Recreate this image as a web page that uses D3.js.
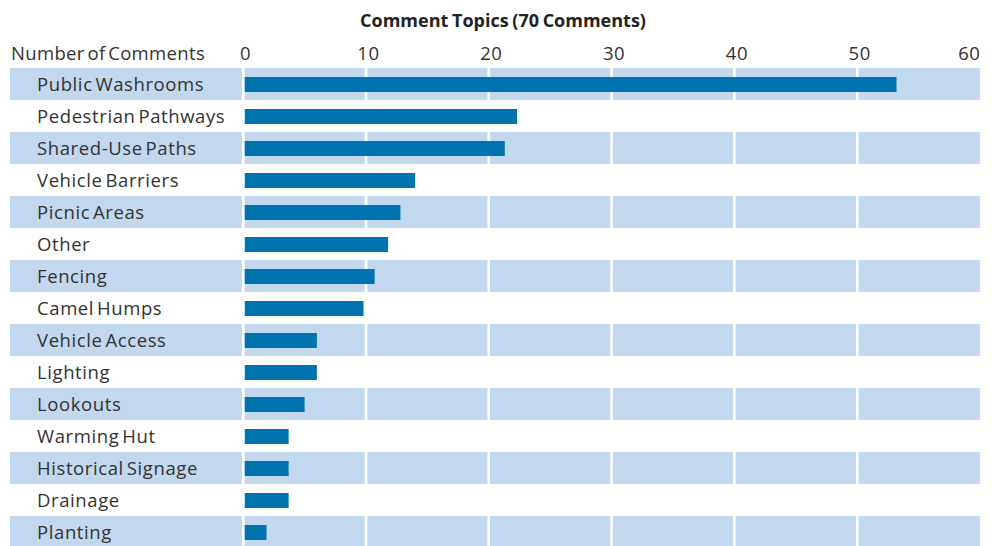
<!DOCTYPE html>
<html>
<head>
<meta charset="utf-8">
<script src="https://cdn.jsdelivr.net/npm/d3@7"></script>
<style>
  html, body { margin: 0; padding: 0; background: #fff; }
  svg { display: block; font-family: "Open Sans", sans-serif; }
</style>
</head>
<body>
<svg id="chart" width="992" height="546"></svg>
<script>
const title = "Comment Topics (70 Comments)";
const axisLabel = "Number of Comments";
const categories = ["Public Washrooms","Pedestrian Pathways","Shared-Use Paths","Vehicle Barriers","Picnic Areas","Other","Fencing","Camel Humps","Vehicle Access","Lighting","Lookouts","Warming Hut","Historical Signage","Drainage","Planting"];
const values = [53.2, 22.3, 21.3, 14, 12.8, 11.8, 10.7, 9.8, 6, 6, 5, 3.7, 3.7, 3.7, 1.9];
const ticks = [0, 10, 20, 30, 40, 50, 60];

const svg = d3.select("#chart");
const margin = { left: 243.2, right: 980, top: 68, rowH: 32 };
const x = d3.scaleLinear().domain([0, 60]).range([margin.left, margin.right]);
const y = d3.scaleBand().domain(categories).range([margin.top, margin.top + margin.rowH * categories.length]).paddingInner(0).paddingOuter(0);

const bandColor = "#c2d8ee";
const barColor = "#0074ae";
const textColor = "#333";
const fontFam = "'Open Sans', sans-serif";

// alternating row bands
svg.append("g").selectAll("rect")
  .data(categories.filter((d, i) => i % 2 === 0))
  .join("rect")
  .attr("x", 10)
  .attr("y", d => y(d))
  .attr("width", x(60) - 10)
  .attr("height", y.bandwidth())
  .attr("fill", bandColor);

// white gridlines
svg.append("g").selectAll("rect")
  .data(ticks.slice(0, -1))
  .join("rect")
  .attr("x", d => x(d) - 1.3)
  .attr("y", margin.top)
  .attr("width", 2.6)
  .attr("height", y.range()[1] - margin.top)
  .attr("fill", "#fff");

// bars
svg.append("g").selectAll("rect")
  .data(categories)
  .join("rect")
  .attr("x", x(0) + 1.6)
  .attr("y", d => y(d) + 9)
  .attr("width", (d, i) => x(values[i]) - x(0) - 1.6)
  .attr("height", 15)
  .attr("fill", barColor);

// category labels
svg.append("g").selectAll("text")
  .data(categories)
  .join("text")
  .attr("x", 37)
  .attr("y", d => y(d) + y.bandwidth() / 2 + 6.5)
  .attr("font-size", 18.5)
  .attr("letter-spacing", 0.6)
  .attr("word-spacing", -2.5)
  .attr("fill", textColor)
  .text(d => d);

// tick labels
const axis = d3.axisTop(x).tickValues(ticks).tickSize(0).tickPadding(0);
const ag = svg.append("g").attr("transform", "translate(0,60)").call(axis);
ag.select(".domain").remove();
ag.selectAll("text")
  .attr("font-size", 18.5)
  .attr("letter-spacing", 0.6)
  .attr("font-family", fontFam)
  .attr("fill", textColor)
  .attr("dy", 0)
  .attr("text-anchor", d => d === 60 ? "end" : "middle")
  .attr("x", d => d === 60 ? 0 : 2);

// axis label
svg.append("text")
  .attr("x", 11)
  .attr("y", 60)
  .attr("font-size", 18.5)
  .attr("letter-spacing", 0.35)
  .attr("word-spacing", -2.5)
  .attr("fill", textColor)
  .text(axisLabel);

// title
svg.append("text")
  .attr("x", 503)
  .attr("y", 27)
  .attr("text-anchor", "middle")
  .attr("font-size", 18)
  .attr("font-weight", "bold")
  .attr("word-spacing", -1)
  .attr("fill", "#222")
  .text(title);
</script>
</body>
</html>
